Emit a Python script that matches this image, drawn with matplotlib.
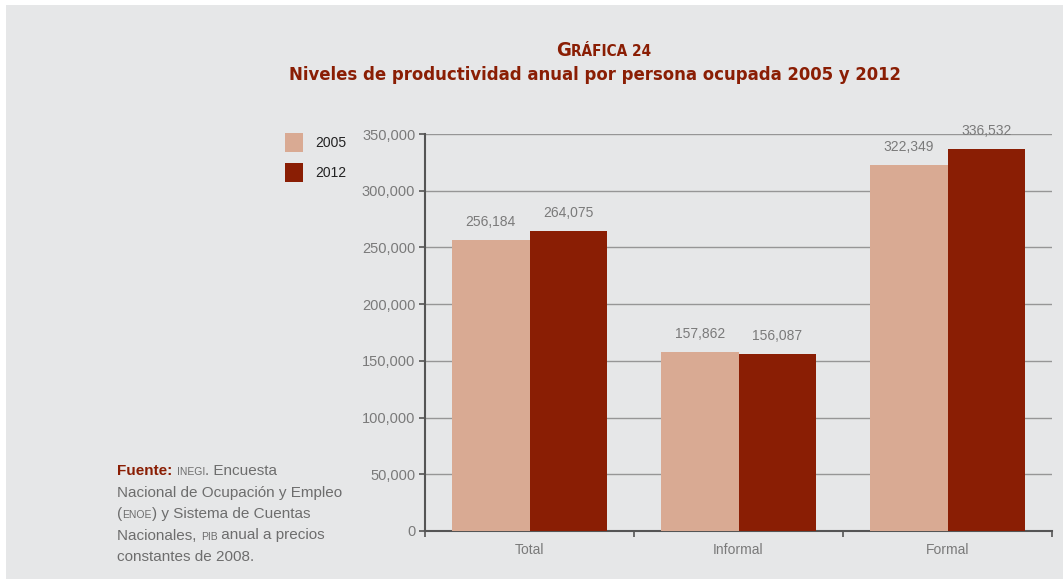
import matplotlib.pyplot as plt
import numpy as np
from matplotlib.patches import Rectangle

# data
categories = ['Total', 'Informal', 'Formal']
years = ['2005', '2012']
vals_2005 = [256184, 157862, 322349]
vals_2012 = [264075, 156087, 336532]
y_ticks = [0, 50000, 100000, 150000, 200000, 250000, 300000, 350000]

c2005 = '#d9aa93'
c2012 = '#8a1e04'
red = '#8a1e04'
bg = '#e6e7e8'
grey = '#7a7a7a'

plt.rcParams['font.family'] = ['Liberation Sans', 'DejaVu Sans']

fig = plt.figure(figsize=(10.63, 5.79), dpi=100, facecolor='white')
fig.patches.append(Rectangle((6 / 1063, 0), 1, 1 - 5 / 579, transform=fig.transFigure,
                             facecolor=bg, edgecolor='none', zorder=-10))

ax = fig.add_axes([425 / 1063, 1 - 531 / 579, (1052 - 425) / 1063, (531 - 134) / 579])
ax.set_facecolor('none')

x = np.arange(len(categories))
w = 0.37
b1 = ax.bar(x - w / 2, vals_2005, w, color=c2005, label=years[0], zorder=3)
b2 = ax.bar(x + w / 2, vals_2012, w, color=c2012, label=years[1], zorder=3)

for bars, vals in [(b1, vals_2005), (b2, vals_2012)]:
    for r, v in zip(bars, vals):
        ax.annotate(f'{v:,}', (r.get_x() + r.get_width() / 2, v), xytext=(0, 8),
                    textcoords='offset points', ha='center', va='bottom',
                    fontsize=10, color=grey, zorder=5, annotation_clip=False)

ax.set_xlim(-0.5, 2.5)
ax.set_ylim(0, 350000)
ax.set_yticks(y_ticks)
ax.set_yticklabels([f'{t:,}' for t in y_ticks])
ax.set_xticks([-0.5, 0.5, 1.5, 2.5])
ax.set_xticklabels([])
ax.set_xticks(x, minor=True)
ax.set_xticklabels(categories, minor=True)
ax.tick_params(axis='x', which='minor', length=0, pad=9, labelsize=10, labelcolor=grey)
ax.tick_params(axis='x', which='major', length=4, width=1.2, color='#555555', direction='out')
ax.tick_params(axis='y', length=4, width=1.2, color='#555555', labelsize=10.5,
               labelcolor=grey, pad=3)
ax.yaxis.grid(True, color='#969696', linewidth=1, zorder=0)
ax.set_axisbelow(True)
for s in ['top', 'right']:
    ax.spines[s].set_visible(False)
for s in ['left', 'bottom']:
    ax.spines[s].set_color('#555555')
    ax.spines[s].set_linewidth(1.5)

# legend
fig.legend(handles=[b1, b2], labels=years, loc='upper left',
           bbox_to_anchor=(272 / 1063, 1 - 120 / 579), frameon=False, fontsize=10,
           handlelength=1.3, handleheight=1.8, handletextpad=0.9, labelspacing=0.75,
           labelcolor='#222222')

# title
renderer = fig.canvas.get_renderer()
tkw = dict(va='baseline', fontweight='bold', color=red, fontstretch='condensed',
           family='DejaVu Sans')
g = fig.text(556 / 1063, 1 - 56 / 579, 'G', ha='left', fontsize=14.5, **tkw)
gw = g.get_window_extent(renderer).width
fig.text((556 + gw) / 1063, 1 - 56 / 579, 'RÁFICA 24', ha='left', fontsize=11, **tkw)
fig.text(595 / 1063, 1 - 75 / 579, 'Niveles de productividad anual por persona ocupada 2005 y 2012',
         ha='center', va='center', fontsize=13.2, fontweight='bold', color=red,
         fontstretch='condensed', family='DejaVu Sans')

# source note, with small caps pieces
body = '#6d6d6d'
lines = [
    [('Fuente: ', 11, red, 'bold'), ('INEGI', 7.5, body, 'normal'), ('. Encuesta', 11, body, 'normal')],
    [('Nacional de Ocupación y Empleo', 11, body, 'normal')],
    [('(', 11, body, 'normal'), ('ENOE', 7.5, body, 'normal'), (') y Sistema de Cuentas', 11, body, 'normal')],
    [('Nacionales, ', 11, body, 'normal'), ('PIB', 7.5, body, 'normal'), (' anual a precios', 11, body, 'normal')],
    [('constantes de 2008.', 11, body, 'normal')],
]
y0 = 475
for line in lines:
    xpix = 117
    for txt, fs, col, wt in line:
        t = fig.text(xpix / 1063, 1 - y0 / 579, txt, fontsize=fs, color=col,
                     fontweight=wt, ha='left', va='baseline')
        xpix += t.get_window_extent(renderer).width
    y0 += 21.5

fig.savefig('out.png', dpi=100, facecolor=fig.get_facecolor())
